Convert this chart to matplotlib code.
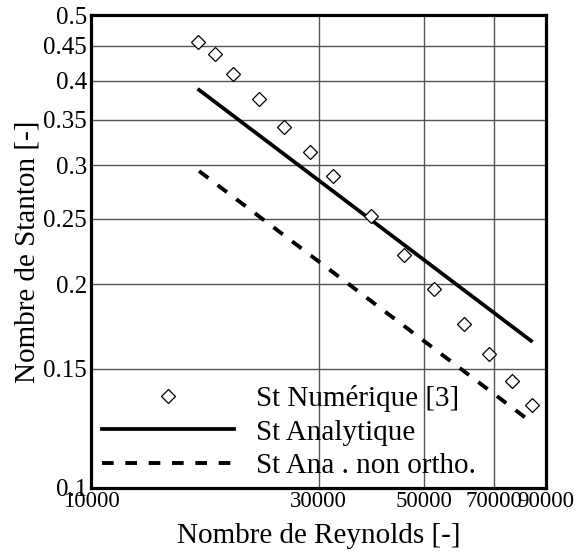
import matplotlib
matplotlib.use('Agg')
import matplotlib.pyplot as plt
from matplotlib.ticker import FixedLocator, NullLocator

plt.rcParams['font.family'] = ['Liberation Serif', 'DejaVu Serif']

# donnees
re_num = [16770, 18200, 19860, 22500, 25400, 28800, 32200, 38650, 45340,
          52400, 60560, 68340, 76350, 84100]
st_num = [0.456, 0.438, 0.409, 0.376, 0.342, 0.314, 0.289, 0.252, 0.221,
          0.197, 0.175, 0.158, 0.144, 0.1326]
re_ana = [16850, 83700]
st_ana = [0.3875, 0.165]
re_non = [16850, 82100]
st_non = [0.294, 0.1265]

x_ticks = [10000, 30000, 50000, 70000, 90000]
y_ticks = [0.1, 0.15, 0.2, 0.25, 0.3, 0.35, 0.4, 0.45, 0.5]

fig = plt.figure(figsize=(5.76, 5.57), dpi=100)
ax = fig.add_axes([0.158, 0.124, 0.790, 0.849])

ax.plot(re_num, st_num, linestyle='none', marker='D', markersize=7.5,
        markerfacecolor='white', markeredgecolor='black', markeredgewidth=0.9,
        label='St Numérique [3]', zorder=4)
ax.plot(re_ana, st_ana, color='black', linewidth=2.7, label='St Analytique', zorder=3)
ax.plot(re_non, st_non, color='black', linewidth=2.8, dashes=(3.0, 3.0),
        dash_capstyle='butt', label='St Ana . non ortho.', zorder=3)

ax.set_xscale('log')
ax.set_yscale('log')
ax.set_xlim(10000, 90000)
ax.set_ylim(0.1, 0.5)
ax.xaxis.set_major_locator(FixedLocator(x_ticks))
ax.yaxis.set_major_locator(FixedLocator(y_ticks))
ax.xaxis.set_minor_locator(NullLocator())
ax.yaxis.set_minor_locator(NullLocator())
ax.set_xticklabels([str(v) for v in x_ticks])
ax.set_yticklabels([('%g' % v) for v in y_ticks])
ax.tick_params(length=0, pad=3)
ax.tick_params(axis='y', labelsize=18)
ax.tick_params(axis='x', labelsize=16.5, pad=2)
ax.grid(True, color='#555555', linewidth=1.0, zorder=1)
ax.set_axisbelow(True)
for s in ax.spines.values():
    s.set_linewidth(2.3)

ax.set_xlabel('Nombre de Reynolds [-]', fontsize=21, labelpad=8)
ax.set_ylabel('Nombre de Stanton [-]', fontsize=21, labelpad=2)

leg = ax.legend(loc='upper left', bbox_to_anchor=(0.025, 0.218), frameon=False,
                fontsize=21, handlelength=4.5, handletextpad=0.75,
                labelspacing=0.25, borderpad=0, borderaxespad=0)

fig.savefig('out.png', dpi=100)
